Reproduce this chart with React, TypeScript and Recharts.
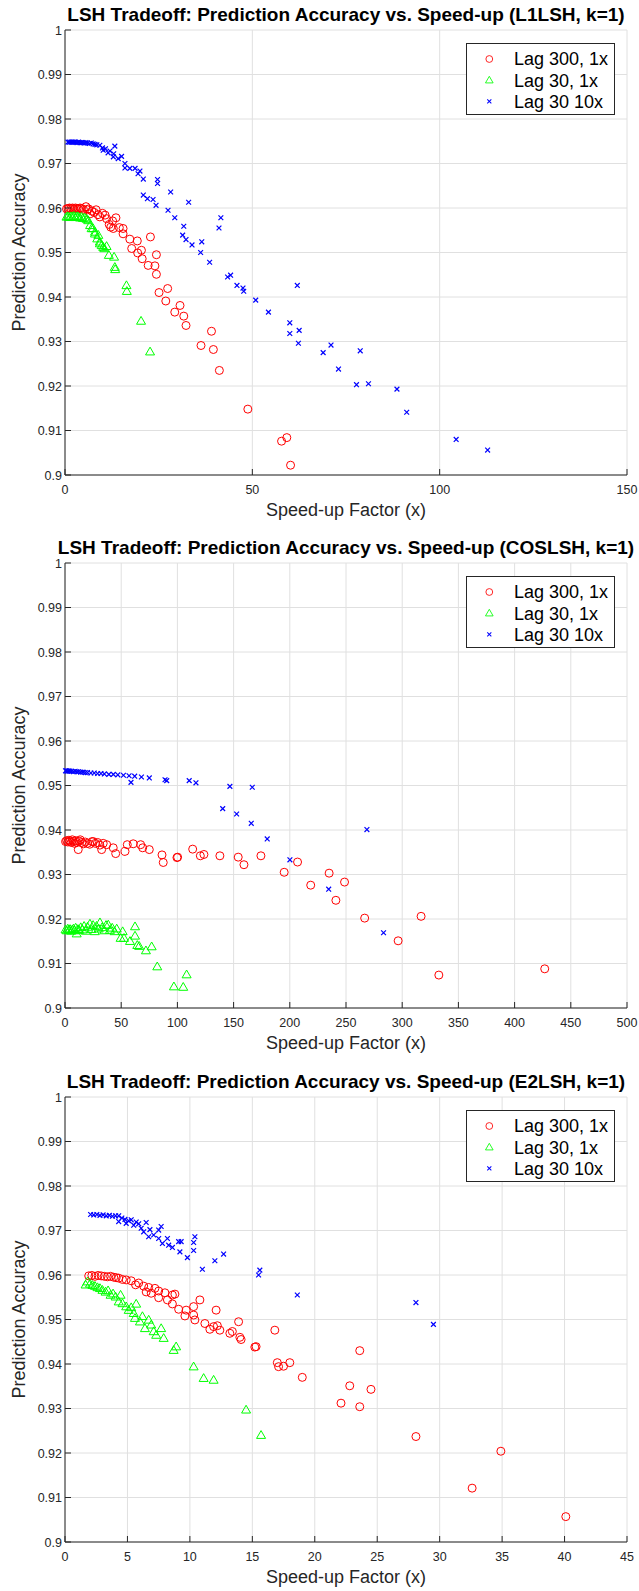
import { ScatterChart, Scatter, XAxis, YAxis, CartesianGrid } from "recharts";

// shared axis settings
const yTicks = [0.9, 0.91, 0.92, 0.93, 0.94, 0.95, 0.96, 0.97, 0.98, 0.99, 1];
const l1XTicks = [0, 50, 100, 150];
const cosXTicks = [0, 50, 100, 150, 200, 250, 300, 350, 400, 450, 500];
const e2XTicks = [0, 5, 10, 15, 20, 25, 30, 35, 40, 45];

const seriesNames = ["Lag 300, 1x", "Lag 30, 1x", "Lag 30 10x"];

// ---- L1LSH: [speed-up, accuracy] ----
const l1Lag300 = [
  [0.4, 0.9598], [0.8, 0.9599], [1.2, 0.96], [1.6, 0.9599], [2.0, 0.96], [2.4, 0.9598],
  [2.8, 0.96], [3.2, 0.9599], [3.6, 0.9598], [4.0, 0.96], [4.4, 0.9599], [4.9, 0.9597],
  [5.6, 0.9603], [6.0, 0.9596], [6.3, 0.9598], [6.7, 0.9587], [7.2, 0.9593], [7.8, 0.959],
  [8.3, 0.9596], [8.8, 0.9585], [9.3, 0.958], [10.0, 0.9588], [10.7, 0.9584], [11.1, 0.9576],
  [11.8, 0.9563], [12.2, 0.9557], [12.7, 0.9571], [12.9, 0.9554], [13.6, 0.9578], [14.5, 0.9556],
  [15.5, 0.9554], [15.5, 0.9542], [17.3, 0.953], [17.8, 0.9509], [19.3, 0.9526], [19.4, 0.9499],
  [20.4, 0.9505], [20.6, 0.9486], [22.2, 0.9471], [22.8, 0.9535], [24.0, 0.947], [24.4, 0.9495],
  [24.4, 0.9451], [25.1, 0.941], [26.9, 0.9391], [27.4, 0.9419], [29.3, 0.9366], [30.7, 0.9381],
  [31.7, 0.9357], [32.3, 0.9336], [36.3, 0.9291], [39.1, 0.9323], [39.6, 0.9282], [41.2, 0.9235],
  [48.8, 0.9148], [57.8, 0.9076], [59.2, 0.9084], [60.2, 0.9022],
];
const l1Lag30 = [
  [0.4, 0.958], [0.8, 0.9581], [1.2, 0.9579], [1.6, 0.9581], [2.0, 0.958], [2.4, 0.9582],
  [2.8, 0.9579], [3.2, 0.9581], [3.6, 0.958], [4.0, 0.9578], [4.4, 0.958], [4.8, 0.9577],
  [5.3, 0.9578], [5.8, 0.9575], [6.2, 0.9572], [6.7, 0.9561], [7.1, 0.9554], [7.5, 0.9554],
  [8.0, 0.9546], [8.0, 0.9542], [8.6, 0.9531], [8.9, 0.9539], [9.3, 0.9524], [9.3, 0.952],
  [9.8, 0.9516], [10.2, 0.9512], [10.5, 0.9509], [11.1, 0.9514], [11.7, 0.9494], [13.1, 0.949],
  [13.3, 0.9467], [13.4, 0.9462], [16.4, 0.9426], [16.5, 0.9413], [20.3, 0.9346], [22.7, 0.9277],
];
const l1Lag30x10 = [
  [0.8, 0.9748], [1.2, 0.9748], [1.6, 0.9748], [2.0, 0.9748], [2.4, 0.9748], [2.8, 0.9748],
  [3.2, 0.9747], [3.6, 0.9748], [4.0, 0.9747], [4.4, 0.9747], [4.8, 0.9747], [5.2, 0.9746],
  [5.6, 0.9747], [6.0, 0.9746], [6.5, 0.9745], [7.0, 0.9746], [7.5, 0.9744], [8.0, 0.9743],
  [8.5, 0.9742], [9.3, 0.9741], [10.0, 0.9735], [10.2, 0.973], [10.8, 0.9733], [11.5, 0.9724],
  [12.0, 0.9728], [12.9, 0.9715], [13.0, 0.9722], [13.3, 0.9739], [14.2, 0.9711], [15.1, 0.9716],
  [16.0, 0.97], [16.0, 0.969], [17.3, 0.9689], [18.7, 0.9689], [19.5, 0.9677], [20.0, 0.9683],
  [20.9, 0.9665], [20.9, 0.9629], [22.0, 0.9621], [23.5, 0.9619], [24.3, 0.9606], [24.7, 0.9664],
  [24.7, 0.9655], [27.5, 0.9595], [28.2, 0.9636], [29.3, 0.9578], [31.4, 0.9539], [31.7, 0.9559],
  [32.3, 0.9529], [33.0, 0.9613], [33.9, 0.9517], [36.2, 0.95], [36.5, 0.9524], [38.6, 0.9478],
  [41.1, 0.9555], [41.6, 0.9578], [43.4, 0.9445], [44.2, 0.9449], [45.9, 0.9426], [47.5, 0.942],
  [47.7, 0.9413], [50.9, 0.9393], [54.3, 0.9366], [60.0, 0.9342], [60.0, 0.9318], [62.0, 0.9426],
  [62.3, 0.9296], [62.5, 0.9325], [68.9, 0.9275], [71.0, 0.9292], [73.0, 0.9238], [77.8, 0.9203],
  [78.8, 0.9279], [81.0, 0.9205], [88.6, 0.9193], [91.2, 0.9141], [104.4, 0.908], [112.8, 0.9056],
];

// ---- COSLSH ----
const cosLag300 = [
  [0.5, 0.9374], [1.5, 0.9376], [2.5, 0.9373], [3.5, 0.9377], [4.5, 0.9375], [5.5, 0.9372],
  [6.5, 0.9378], [7.5, 0.9374], [8.5, 0.937], [9.5, 0.9376], [10.5, 0.9372], [11.8, 0.9356],
  [12.5, 0.9375], [13.5, 0.9378], [15.0, 0.9372], [16.5, 0.9369], [18.0, 0.9373], [20.0, 0.937],
  [22.0, 0.9368], [24.0, 0.9374], [25.2, 0.9374], [27.0, 0.937], [29.0, 0.9372], [31.0, 0.9366],
  [32.6, 0.9356], [34.0, 0.937], [37.1, 0.9367], [42.9, 0.936], [45.1, 0.9347], [53.4, 0.9352],
  [55.4, 0.9367], [60.7, 0.9369], [67.3, 0.9367], [69.1, 0.936], [75.0, 0.9356], [86.3, 0.9344],
  [87.4, 0.9327], [99.6, 0.9338], [100.2, 0.9339], [113.6, 0.9357], [120.4, 0.9342], [123.6, 0.9345],
  [137.8, 0.9342], [154.1, 0.9339], [159.2, 0.9322], [174.3, 0.9342], [195.0, 0.9305], [206.9, 0.9328],
  [218.6, 0.9276], [235.0, 0.9303], [241.0, 0.9242], [248.7, 0.9283], [266.6, 0.9202], [296.4, 0.9151],
  [316.8, 0.9206], [332.6, 0.9074], [426.8, 0.9088],
];
const cosLag30 = [
  [0.5, 0.9176], [1.5, 0.9174], [2.5, 0.9178], [3.5, 0.9175], [4.5, 0.9177], [5.5, 0.9173],
  [6.5, 0.9176], [7.5, 0.9178], [8.5, 0.9174], [9.5, 0.918], [10.4, 0.9167], [11.5, 0.9177],
  [12.5, 0.9175], [14.0, 0.9181], [15.5, 0.9176], [17.0, 0.9184], [18.5, 0.9173], [20.0, 0.9182],
  [22.2, 0.9189], [23.5, 0.9177], [25.0, 0.9186], [26.5, 0.9172], [28.0, 0.9184], [30.0, 0.9178],
  [31.1, 0.9192], [33.0, 0.9181], [35.0, 0.9174], [36.5, 0.9186], [38.5, 0.9187], [40.0, 0.9175],
  [42.0, 0.918], [44.0, 0.9172], [46.0, 0.9178], [49.5, 0.9157], [51.3, 0.9172], [52.5, 0.9157],
  [57.8, 0.915], [62.3, 0.9183], [62.3, 0.9162], [64.3, 0.9141], [66.0, 0.9139], [72.0, 0.9129],
  [77.1, 0.9138], [82.1, 0.9093], [96.9, 0.9048], [105.2, 0.9047], [108.2, 0.9075],
];
const cosLag30x10 = [
  [0.5, 0.9533], [1.5, 0.9533], [2.5, 0.9532], [3.5, 0.9533], [4.5, 0.9532], [6.0, 0.9532],
  [7.5, 0.9531], [9.0, 0.9532], [10.5, 0.9531], [12.0, 0.9531], [14.0, 0.953], [16.0, 0.953],
  [18.0, 0.9529], [20.0, 0.9529], [23.0, 0.9528], [26.0, 0.9528], [29.0, 0.9527], [32.0, 0.9527],
  [35.0, 0.9526], [39.0, 0.9525], [43.0, 0.9525], [47.0, 0.9524], [52.0, 0.9523], [57.0, 0.9522],
  [58.7, 0.9507], [62.0, 0.9521], [68.0, 0.9519], [75.0, 0.9517], [89.0, 0.9513], [90.5, 0.9511],
  [110.5, 0.9511], [116.5, 0.9506], [140.3, 0.9448], [146.7, 0.9498], [152.7, 0.9436], [165.7, 0.9415],
  [166.6, 0.9496], [179.9, 0.938], [200.1, 0.9333], [234.6, 0.9267], [268.6, 0.9401], [283.4, 0.9169],
];

// ---- E2LSH ----
const e2Lag300 = [
  [1.9, 0.9598], [2.15, 0.9599], [2.4, 0.9597], [2.65, 0.9599], [2.9, 0.9598], [3.15, 0.9597],
  [3.4, 0.9596], [3.65, 0.9597], [3.9, 0.9595], [4.1, 0.9594], [4.3, 0.9593], [4.6, 0.959],
  [4.9, 0.9589], [5.3, 0.9587], [5.65, 0.9578], [5.9, 0.9582], [6.3, 0.9575], [6.5, 0.9562],
  [6.7, 0.9572], [6.9, 0.9559], [7.2, 0.957], [7.5, 0.9564], [7.5, 0.9549], [8.0, 0.956],
  [8.2, 0.9544], [8.6, 0.9555], [8.6, 0.9535], [8.8, 0.9557], [9.1, 0.9523], [9.6, 0.9508],
  [9.7, 0.9521], [10.3, 0.9529], [10.3, 0.951], [10.4, 0.9499], [10.8, 0.9544], [11.2, 0.9491],
  [11.6, 0.9478], [11.9, 0.9484], [12.1, 0.9521], [12.2, 0.9486], [12.4, 0.9476], [13.2, 0.9469],
  [13.4, 0.9473], [13.9, 0.9495], [14.0, 0.946], [14.1, 0.9455], [15.2, 0.9438], [15.3, 0.9439],
  [16.8, 0.9476], [17.0, 0.9403], [17.1, 0.9394], [17.5, 0.9395], [18.0, 0.9403], [19.0, 0.937],
  [22.1, 0.9312], [22.8, 0.9351], [23.6, 0.943], [23.6, 0.9304], [24.5, 0.9343], [28.1, 0.9237],
  [32.6, 0.9121], [34.9, 0.9204], [40.1, 0.9057],
];
const e2Lag30 = [
  [1.65, 0.9578], [1.8, 0.9585], [2.0, 0.958], [2.2, 0.9577], [2.4, 0.9575], [2.6, 0.9572],
  [2.8, 0.957], [3.0, 0.9566], [3.25, 0.9562], [3.45, 0.9565], [3.65, 0.9555], [3.85, 0.9558],
  [4.05, 0.9551], [4.3, 0.954], [4.45, 0.9555], [4.6, 0.9536], [4.9, 0.9529], [5.1, 0.9521],
  [5.3, 0.9527], [5.5, 0.9514], [5.6, 0.9503], [5.7, 0.9535], [6.0, 0.9495], [6.2, 0.9507],
  [6.4, 0.948], [6.7, 0.9499], [6.9, 0.9488], [7.1, 0.9473], [7.3, 0.9465], [7.7, 0.948],
  [7.9, 0.9458], [8.7, 0.9431], [8.9, 0.9439], [10.3, 0.9394], [11.1, 0.9368], [11.9, 0.9364],
  [14.5, 0.9297], [15.7, 0.924],
];
const e2Lag30x10 = [
  [2.05, 0.9736], [2.3, 0.9735], [2.55, 0.9736], [2.8, 0.9734], [3.05, 0.9735], [3.3, 0.9733],
  [3.55, 0.9734], [3.8, 0.9732], [4.05, 0.9733], [4.3, 0.9733], [4.3, 0.972], [4.55, 0.9728],
  [4.8, 0.9725], [4.9, 0.9716], [5.1, 0.9722], [5.3, 0.9724], [5.5, 0.9712], [5.7, 0.9719],
  [5.9, 0.9715], [6.1, 0.9705], [6.3, 0.9697], [6.5, 0.9718], [6.7, 0.9686], [6.8, 0.9702],
  [7.1, 0.969], [7.5, 0.9701], [7.5, 0.9682], [7.7, 0.9709], [7.8, 0.9671], [8.2, 0.9682],
  [8.3, 0.9667], [8.6, 0.9662], [9.1, 0.9675], [9.2, 0.9652], [9.3, 0.9675], [9.8, 0.9639],
  [10.3, 0.9673], [10.3, 0.9655], [10.4, 0.9686], [11.0, 0.9613], [12.0, 0.9632], [12.7, 0.9647],
  [15.5, 0.96], [15.6, 0.9611], [18.6, 0.9555], [28.1, 0.9538], [29.5, 0.9489],
];

const RED = "#ff0000";
const GREEN = "#00ff00";
const BLUE = "#0000ff";
const AXIS = "#262626";
const GRID = "#e0e0e0";
const FONT = "'Liberation Sans', Arial, Helvetica, sans-serif";

const W = 639;
const H = 534;
const PLOT_LEFT = 65;
const PLOT_TOP = 30;
const PLOT_RIGHT = 627;
const PLOT_BOTTOM = 475;

const toPoints = (rows: number[][]) => rows.map(([x, y]) => ({ x, y }));

// marker shapes (MATLAB 'o', '^', 'x')
const circleShape = (p: any) => (
  <circle cx={p.cx} cy={p.cy} r={4} fill="none" stroke={RED} strokeWidth={1} />
);
const triangleShape = (p: any) => (
  <polygon
    points={`${p.cx},${p.cy - 4.6} ${p.cx - 4.5},${p.cy + 3.2} ${p.cx + 4.5},${p.cy + 3.2}`}
    fill="none"
    stroke={GREEN}
    strokeWidth={1}
  />
);
const crossShape = (p: any) => {
  const d = 2.4;
  return (
    <path
      d={`M${p.cx - d},${p.cy - d}L${p.cx + d},${p.cy + d}M${p.cx - d},${p.cy + d}L${p.cx + d},${p.cy - d}`}
      stroke={BLUE}
      strokeWidth={1.2}
      fill="none"
    />
  );
};

// inward tick marks with labels, MATLAB style
const YTick = ({ x, y, payload }: any) => (
  <g>
    <line x1={x} x2={x + 6} y1={y} y2={y} stroke={AXIS} />
    <text x={x - 3} y={y} dy="0.36em" textAnchor="end" fontSize={12.5} fill={AXIS} fontFamily={FONT}>
      {String(payload.value)}
    </text>
  </g>
);
const XTick = ({ x, y, payload }: any) => (
  <g>
    <line x1={x} x2={x} y1={y} y2={y - 6} stroke={AXIS} />
    <text x={x} y={y + 18.5} textAnchor="middle" fontSize={12.5} fill={AXIS} fontFamily={FONT}>
      {String(payload.value)}
    </text>
  </g>
);

const XTitle = () => (
  <text
    x={(PLOT_LEFT + PLOT_RIGHT) / 2}
    y={PLOT_BOTTOM + 41}
    textAnchor="middle"
    fontSize={18}
    fill={AXIS}
    fontFamily={FONT}
  >
    Speed-up Factor (x)
  </text>
);
const YTitle = () => {
  const cx = 25;
  const cy = (PLOT_TOP + PLOT_BOTTOM) / 2;
  return (
    <text
      x={cx}
      y={cy}
      transform={`rotate(-90, ${cx}, ${cy})`}
      textAnchor="middle"
      fontSize={18}
      fill={AXIS}
      fontFamily={FONT}
    >
      Prediction Accuracy
    </text>
  );
};

function LegendBox() {
  const rows = [
    { name: seriesNames[0], shape: circleShape },
    { name: seriesNames[1], shape: triangleShape },
    { name: seriesNames[2], shape: crossShape },
  ];
  return (
    <div
      style={{
        position: "absolute",
        left: 466,
        top: 43,
        width: 149,
        height: 72,
        boxSizing: "border-box",
        border: `1px solid ${AXIS}`,
        background: "#fff",
      }}
    >
      <svg width={147} height={70} style={{ display: "block" }}>
        {rows.map((r, i) => {
          const cy = 15 + i * 21.2;
          return (
            <g key={r.name}>
              <g transform={`translate(22.3, ${cy}) scale(0.85) translate(-22.3, ${-cy})`}>
                {r.shape({ cx: 22.3, cy })}
              </g>
              <text x={47} y={cy} dy="0.36em" fontSize={18} fill="#000" fontFamily={FONT}>
                {r.name}
              </text>
            </g>
          );
        })}
      </svg>
    </div>
  );
}

interface PanelProps {
  title: string;
  top: number;
  xMax: number;
  xTicks: number[];
  lag300: number[][];
  lag30: number[][];
  lag30x10: number[][];
}

function Panel({ title, top, xMax, xTicks, lag300, lag30, lag30x10 }: PanelProps) {
  return (
    <div style={{ position: "absolute", left: 0, top, width: W, height: H }}>
      <div
        style={{
          position: "absolute",
          left: PLOT_LEFT - 20,
          width: PLOT_RIGHT - PLOT_LEFT + 40,
          top: 5,
          textAlign: "center",
          fontFamily: FONT,
          fontWeight: "bold",
          fontSize: 19,
          lineHeight: "20px",
          color: "#000",
          whiteSpace: "nowrap",
        }}
      >
        {title}
      </div>
      <ScatterChart
        width={W}
        height={H}
        margin={{ top: PLOT_TOP, right: W - PLOT_RIGHT, bottom: 14, left: 25 }}
      >
        <CartesianGrid stroke={GRID} strokeWidth={1} />
        <XAxis
          type="number"
          dataKey="x"
          domain={[0, xMax]}
          ticks={xTicks}
          interval={0}
          height={45}
          tickSize={0}
          tickMargin={0}
          tickLine={false}
          axisLine={{ stroke: AXIS }}
          tick={<XTick />}
          label={<XTitle />}
        />
        <YAxis
          type="number"
          dataKey="y"
          domain={[0.9, 1]}
          ticks={yTicks}
          interval={0}
          width={40}
          tickSize={0}
          tickMargin={0}
          tickLine={false}
          axisLine={{ stroke: AXIS }}
          tick={<YTick />}
          label={<YTitle />}
        />
        <Scatter name={seriesNames[0]} data={toPoints(lag300)} shape={circleShape} isAnimationActive={false} />
        <Scatter name={seriesNames[1]} data={toPoints(lag30)} shape={triangleShape} isAnimationActive={false} />
        <Scatter name={seriesNames[2]} data={toPoints(lag30x10)} shape={crossShape} isAnimationActive={false} />
      </ScatterChart>
      <LegendBox />
    </div>
  );
}

export default function App() {
  return (
    <div style={{ position: "absolute", left: 0, top: 0, width: W, height: 1591, background: "#fff" }}>
      <Panel
        title="LSH Tradeoff: Prediction Accuracy vs. Speed-up (L1LSH, k=1)"
        top={0}
        xMax={150}
        xTicks={l1XTicks}
        lag300={l1Lag300}
        lag30={l1Lag30}
        lag30x10={l1Lag30x10}
      />
      <Panel
        title="LSH Tradeoff: Prediction Accuracy vs. Speed-up (COSLSH, k=1)"
        top={533}
        xMax={500}
        xTicks={cosXTicks}
        lag300={cosLag300}
        lag30={cosLag30}
        lag30x10={cosLag30x10}
      />
      <Panel
        title="LSH Tradeoff: Prediction Accuracy vs. Speed-up (E2LSH, k=1)"
        top={1067}
        xMax={45}
        xTicks={e2XTicks}
        lag300={e2Lag300}
        lag30={e2Lag30}
        lag30x10={e2Lag30x10}
      />
    </div>
  );
}
